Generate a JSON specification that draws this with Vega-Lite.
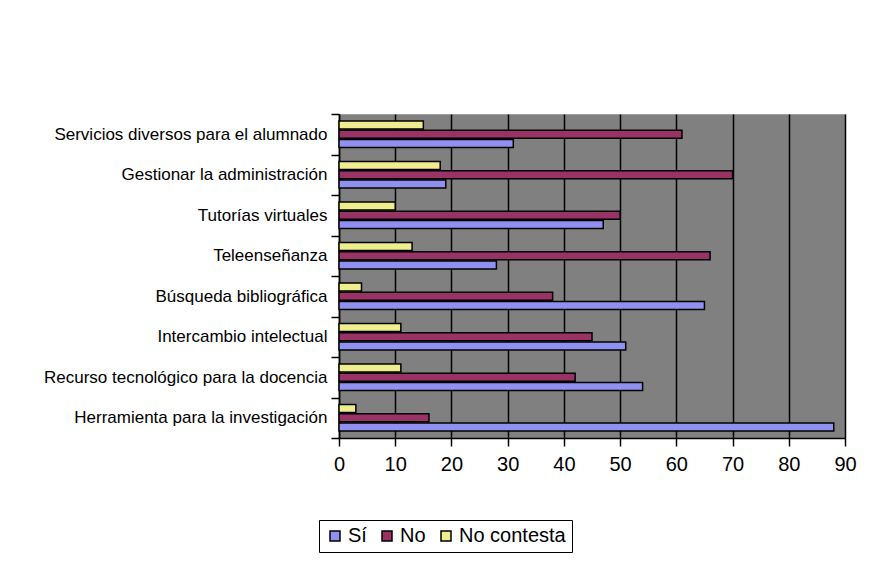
{
  "$schema": "https://vega.github.io/schema/vega-lite/v6.json",
  "width": 506,
  "height": 324,
  "autosize": {"type": "none"},
  "padding": {"left": 339, "top": 114, "right": 35, "bottom": 141},
  "background": "white",
  "config": {
    "font": "Liberation Sans",
    "view": {"fill": "#808080", "stroke": "#a0a0a0", "strokeWidth": 1}
  },
  "data": {
    "values": [
      {"categoria": "Servicios diversos para el alumnado", "respuesta": "Sí", "valor": 31},
      {"categoria": "Servicios diversos para el alumnado", "respuesta": "No", "valor": 61},
      {"categoria": "Servicios diversos para el alumnado", "respuesta": "No contesta", "valor": 15},
      {"categoria": "Gestionar la administración", "respuesta": "Sí", "valor": 19},
      {"categoria": "Gestionar la administración", "respuesta": "No", "valor": 70},
      {"categoria": "Gestionar la administración", "respuesta": "No contesta", "valor": 18},
      {"categoria": "Tutorías virtuales", "respuesta": "Sí", "valor": 47},
      {"categoria": "Tutorías virtuales", "respuesta": "No", "valor": 50},
      {"categoria": "Tutorías virtuales", "respuesta": "No contesta", "valor": 10},
      {"categoria": "Teleenseñanza", "respuesta": "Sí", "valor": 28},
      {"categoria": "Teleenseñanza", "respuesta": "No", "valor": 66},
      {"categoria": "Teleenseñanza", "respuesta": "No contesta", "valor": 13},
      {"categoria": "Búsqueda bibliográfica", "respuesta": "Sí", "valor": 65},
      {"categoria": "Búsqueda bibliográfica", "respuesta": "No", "valor": 38},
      {"categoria": "Búsqueda bibliográfica", "respuesta": "No contesta", "valor": 4},
      {"categoria": "Intercambio intelectual", "respuesta": "Sí", "valor": 51},
      {"categoria": "Intercambio intelectual", "respuesta": "No", "valor": 45},
      {"categoria": "Intercambio intelectual", "respuesta": "No contesta", "valor": 11},
      {"categoria": "Recurso tecnológico para la docencia", "respuesta": "Sí", "valor": 54},
      {"categoria": "Recurso tecnológico para la docencia", "respuesta": "No", "valor": 42},
      {"categoria": "Recurso tecnológico para la docencia", "respuesta": "No contesta", "valor": 11},
      {"categoria": "Herramienta para la investigación", "respuesta": "Sí", "valor": 88},
      {"categoria": "Herramienta para la investigación", "respuesta": "No", "valor": 16},
      {"categoria": "Herramienta para la investigación", "respuesta": "No contesta", "valor": 3}
    ]
  },
  "mark": {"type": "bar", "stroke": "black", "strokeWidth": 1.5},
  "encoding": {
    "y": {
      "field": "categoria",
      "type": "nominal",
      "sort": [
        "Servicios diversos para el alumnado",
        "Gestionar la administración",
        "Tutorías virtuales",
        "Teleenseñanza",
        "Búsqueda bibliográfica",
        "Intercambio intelectual",
        "Recurso tecnológico para la docencia",
        "Herramienta para la investigación"
      ],
      "scale": {"paddingInner": 0, "paddingOuter": 0},
      "axis": {
        "title": null,
        "domainColor": "black",
        "domainWidth": 1.5,
        "tickColor": "black",
        "tickWidth": 1.5,
        "tickSize": 8,
        "tickBand": "extent",
        "labelFontSize": 17,
        "labelColor": "black",
        "labelPadding": 4,
        "labelLimit": 400
      }
    },
    "yOffset": {
      "field": "respuesta",
      "type": "nominal",
      "sort": ["No contesta", "No", "Sí"],
      "scale": {"paddingInner": 0.12, "paddingOuter": 0.76}
    },
    "x": {
      "field": "valor",
      "type": "quantitative",
      "scale": {"domain": [0, 90], "nice": false},
      "axis": {
        "title": null,
        "values": [0, 10, 20, 30, 40, 50, 60, 70, 80, 90],
        "grid": true,
        "gridColor": "black",
        "gridWidth": 1.5,
        "gridOpacity": 1,
        "domainColor": "black",
        "domainWidth": 1.5,
        "tickColor": "black",
        "tickWidth": 1.5,
        "tickSize": 8,
        "labelFontSize": 20,
        "labelColor": "black",
        "labelPadding": 8,
        "labelFlush": false
      }
    },
    "color": {
      "field": "respuesta",
      "type": "nominal",
      "sort": ["Sí", "No", "No contesta"],
      "scale": {"domain": ["Sí", "No", "No contesta"], "range": ["#9090F0", "#993366", "#EEEE8E"]},
      "legend": {
        "title": null,
        "orient": "none",
        "legendX": -20,
        "legendY": 406,
        "direction": "horizontal",
        "columns": 3,
        "strokeColor": "black",
        "padding": 6,
        "symbolType": "square",
        "symbolSize": 100,
        "symbolStrokeColor": "black",
        "symbolStrokeWidth": 1.5,
        "symbolOpacity": 1,
        "labelFontSize": 20,
        "labelColor": "black",
        "labelOffset": 3,
        "columnPadding": 10
      }
    }
  }
}
